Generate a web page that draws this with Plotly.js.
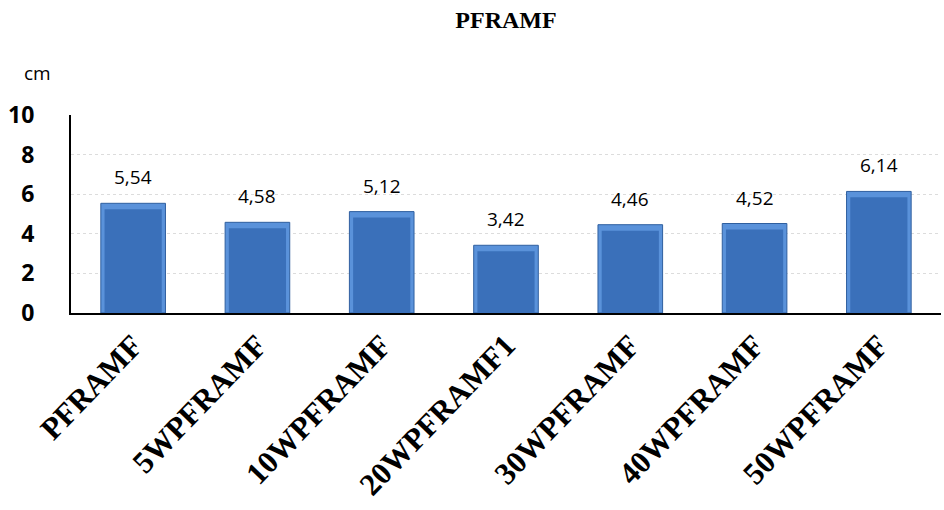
<!DOCTYPE html>
<html>
<head>
<meta charset="utf-8">
<script src="https://cdn.plot.ly/plotly-3.0.1.min.js"></script>
<style>
  html, body { margin: 0; padding: 0; background: #fff; }
  #chart { width: 944px; height: 510px; }
</style>
</head>
<body>
<div id="chart"></div>
<script>
// Sample names and measured lengths (cm)
const categories = ["PFRAMF", "5WPFRAMF", "10WPFRAMF", "20WPFRAMF1", "30WPFRAMF", "40WPFRAMF", "50WPFRAMF"];
const values = [5.54, 4.58, 5.12, 3.42, 4.46, 4.52, 6.14];
const yTicks = [0, 2, 4, 6, 8, 10];

const labels = values.map(v => v.toFixed(2).replace(".", ","));

// Bevelled bar look: a lighter outer bar with a slightly narrower, lower face on top
const bevel = 0.3;
const outer = {
  type: "bar",
  x: categories,
  y: values,
  width: 0.52,
  marker: { color: "#5a92da", line: { color: "#2f5f9f", width: 1 } },
  hoverinfo: "skip"
};
const face = {
  type: "bar",
  x: categories,
  y: values.map(v => v - bevel),
  width: 0.46,
  marker: { color: "#3a70ba", line: { width: 0 } },
  hoverinfo: "x"
};

const valueLabels = categories.map((c, i) => ({
  x: c,
  y: values[i],
  xref: "x",
  yref: "y",
  text: labels[i],
  showarrow: false,
  yanchor: "bottom",
  yshift: 11,
  font: { family: "Open Sans, sans-serif", size: 19, color: "#000" }
}));

const layout = {
  width: 944,
  height: 510,
  margin: { l: 71, r: 3, t: 115, b: 197 },
  paper_bgcolor: "#fff",
  plot_bgcolor: "#fff",
  showlegend: false,
  barmode: "overlay",
  title: {
    text: "<b>PFRAMF</b>",
    font: { family: "Liberation Serif, Times New Roman, serif", size: 24, color: "#000" },
    x: 0.5,
    xref: "paper",
    xanchor: "center",
    y: 0.962,
    yref: "container",
    yanchor: "middle"
  },
  xaxis: {
    type: "category",
    tickangle: -46,
    tickfont: { family: "Liberation Serif, Times New Roman, serif", size: 31, color: "#000", weight: "bold" },
    showline: true,
    linecolor: "#000",
    linewidth: 2,
    ticks: "",
    showgrid: false,
    zeroline: false
  },
  yaxis: {
    range: [0, 10],
    tickvals: yTicks,
    ticktext: yTicks.map(String),
    tickfont: { family: "Open Sans, sans-serif", size: 23, color: "#000", weight: "bold" },
    showline: true,
    linecolor: "#000",
    linewidth: 2,
    ticks: "",
    ticklabelstandoff: 30,
    showgrid: true,
    gridcolor: "#dcdcdc",
    griddash: "dot",
    gridwidth: 1,
    zeroline: false
  },
  annotations: [{
    text: "cm",
    xref: "paper", yref: "paper",
    x: -0.039, y: 1.212,
    xanchor: "center", yanchor: "middle",
    showarrow: false,
    font: { family: "Open Sans, sans-serif", size: 19, color: "#000" }
  }].concat(valueLabels)
};

Plotly.newPlot("chart", [outer, face], layout, { displayModeBar: false, staticPlot: true });
</script>
</body>
</html>
